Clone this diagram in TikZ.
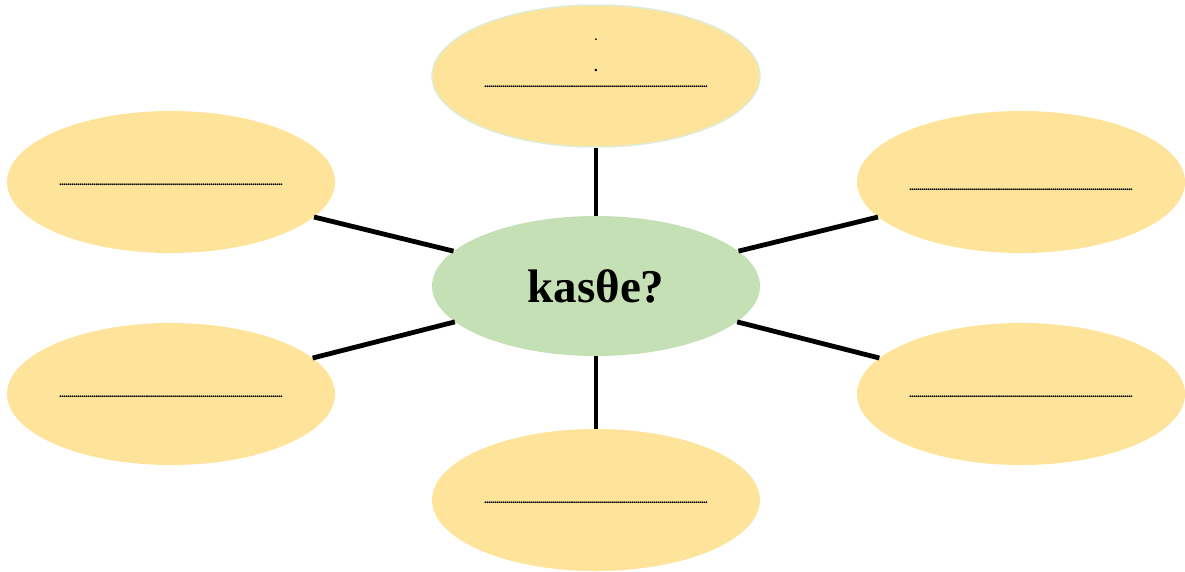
\documentclass[tikz,border=0pt]{standalone}
\usepackage{fontspec}
\setmainfont{Liberation Serif}
\usetikzlibrary{shapes.geometric}
\definecolor{bubble}{RGB}{254,228,155}
\definecolor{hub}{RGB}{197,224,180}
\definecolor{rim}{RGB}{222,238,214}
\newcommand\dk{.\kern-0.76pt}
\newcommand\dkten{\dk\dk\dk\dk\dk\dk\dk\dk\dk\dk}
\newcommand\dotrowtext{\fontsize{11}{11}\selectfont\bfseries\dkten\dkten\dkten\dkten\dkten\dkten\dkten\dkten\dkten\dkten\dkten\dk.}
\tikzset{
  bubblenode/.style={ellipse, fill=bubble, minimum width=328pt, minimum height=142pt, inner sep=0pt},
  hubnode/.style={ellipse, fill=hub, minimum width=328pt, minimum height=140pt, inner sep=0pt,
     font=\fontsize{47}{50}\selectfont\bfseries},
  dotrow/.style={anchor=base, inner sep=0pt},
  spoke/.style={line width=4.8pt, black}
}
\begin{document}
\begin{tikzpicture}[x=1pt,y=-1pt]
\useasboundingbox (0,0) rectangle (1185,571);
\node[bubblenode, draw=rim, line width=1.5pt] (t) at (596,76) {};
\node[bubblenode] (lt) at (171,182) {};
\node[bubblenode] (lb) at (171,394) {};
\node[bubblenode] (rt) at (1021,182) {};
\node[bubblenode] (rb) at (1021,394) {};
\node[bubblenode] (b) at (596,500) {};
\node[hubnode] (c) at (596,286) {kasθe?};
\draw[spoke] (t) -- (c);
\draw[spoke] (c) -- (b);
\draw[spoke] (c) -- (lt);
\draw[spoke] (c) -- (lb);
\draw[spoke] (c) -- (rt);
\draw[spoke] (c) -- (rb);
\node[dotrow, font=\fontsize{11}{11}\selectfont\bfseries] (td1) at (596,40.5) {.};
\node[dotrow, font=\fontsize{15}{15}\selectfont\bfseries] (td2) at (596,71) {.};
\node[dotrow] (tdots) at (596,87.5) {\dotrowtext};
\node[dotrow] (ltdots) at (171,185.5) {\dotrowtext};
\node[dotrow] (lbdots) at (171,397.5) {\dotrowtext};
\node[dotrow] (rtdots) at (1021,190.5) {\dotrowtext};
\node[dotrow] (rbdots) at (1021,397.5) {\dotrowtext};
\node[dotrow] (bdots) at (596,503.5) {\dotrowtext};
\end{tikzpicture}
\end{document}
